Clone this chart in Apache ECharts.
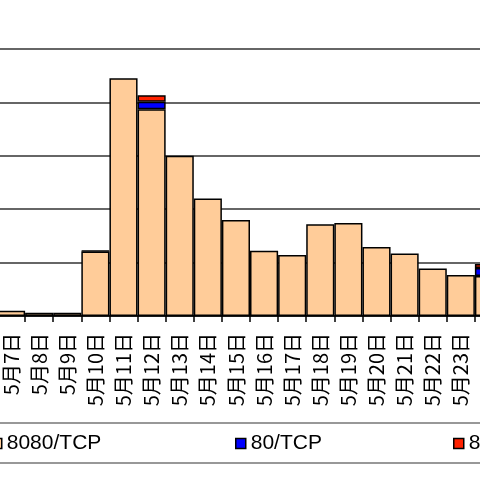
<!DOCTYPE html>
<html>
<head>
<meta charset="utf-8">
<script src="https://cdn.jsdelivr.net/npm/echarts@6/dist/echarts.min.js"></script>
<style>html,body{margin:0;padding:0;background:#fff;}#c{width:480px;height:480px;}</style>
</head>
<body>
<div id="c"></div>
<script>
const categories = ['5月7日','5月8日','5月9日','5月10日','5月11日','5月12日','5月13日','5月14日','5月15日','5月16日','5月17日','5月18日','5月19日','5月20日','5月21日','5月22日','5月23日','5月24日'];
const tcp8080 = [10, 6, 6, 121, 445, 387, 300, 220, 180, 122, 114, 172, 174, 129, 117, 89, 77, 75];
const tcp80   = [null, null, null, 1, null, 14, null, null, null, null, null, null, null, null, null, null, null, 15];
const tcp8    = [null, null, null, null, null, 12.5, null, null, null, null, null, null, null, null, null, null, null, 7.5];
const seriesNames = ['8080/TCP', '80/TCP', '8'];
const yTicks = { min: 0, max: 500, interval: 100 };

const chart = echarts.init(document.getElementById('c'));
const border = { borderColor: '#000', borderWidth: 1.5 };
const legendText = { fontSize: 21, color: '#000', fontFamily: 'Liberation Sans' };
chart.setOption({
  animation: false,
  backgroundColor: '#fff',
  grid: { left: -3, width: 506, top: 49, height: 267, containLabel: false, outerBoundsMode: 'none' },
  xAxis: {
    type: 'category',
    data: categories,
    boundaryGap: true,
    axisLine: { show: true, lineStyle: { color: '#000', width: 1.5 } },
    axisTick: { show: true, length: 6, lineStyle: { color: '#000', width: 1.5 } },
    axisLabel: { rotate: 90, margin: 17, fontSize: 20, color: '#000', fontFamily: 'Noto Sans CJK JP', interval: 0 }
  },
  yAxis: {
    type: 'value',
    min: yTicks.min, max: yTicks.max, interval: yTicks.interval,
    axisLine: { show: false },
    axisTick: { show: false },
    axisLabel: { show: false },
    splitLine: { show: true, lineStyle: { color: '#333', width: 1.5 } }
  },
  legend: [
    { data: [seriesNames[0]], left: -9, top: 433, padding: 0, itemWidth: 10, itemHeight: 10, itemGap: 5, icon: 'rect',
      textStyle: legendText, itemStyle: border },
    { data: [seriesNames[1]], left: 235, top: 433, padding: 0, itemWidth: 10, itemHeight: 10, icon: 'rect',
      textStyle: legendText, itemStyle: border },
    { data: [seriesNames[2]], left: 453, top: 433, padding: 0, itemWidth: 10, itemHeight: 10, icon: 'rect',
      textStyle: legendText, itemStyle: border }
  ],
  graphic: [
    { type: 'rect', shape: { x: -5, y: 423, width: 490, height: 40 }, style: { fill: 'none', stroke: '#777', lineWidth: 1.5 }, z: -1 }
  ],
  series: [
    { name: seriesNames[0], type: 'bar', stack: 'a', data: tcp8080, barCategoryGap: '0%',
      itemStyle: { color: '#FFCC99', borderColor: '#000', borderWidth: 1.5 } },
    { name: seriesNames[1], type: 'bar', stack: 'a', data: tcp80, barCategoryGap: '0%',
      itemStyle: { color: '#0000FF', borderColor: '#000', borderWidth: 1.5 } },
    { name: seriesNames[2], type: 'bar', stack: 'a', data: tcp8, barCategoryGap: '0%',
      itemStyle: { color: '#FF2200', borderColor: '#000', borderWidth: 1.5 } }
  ]
});
</script>
</body>
</html>
